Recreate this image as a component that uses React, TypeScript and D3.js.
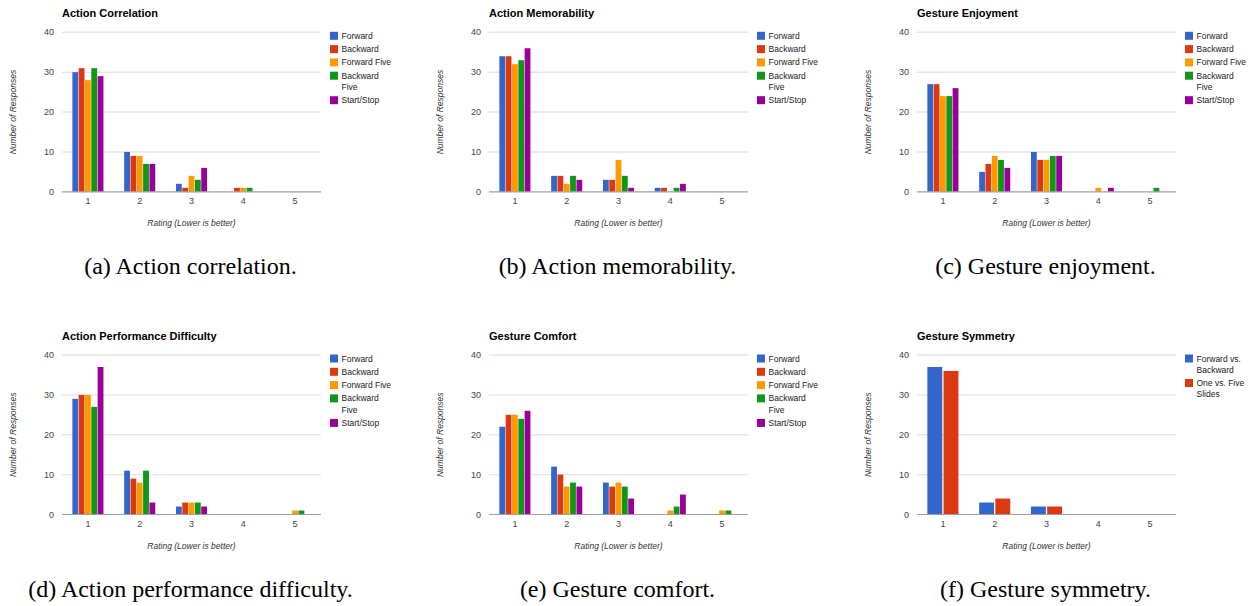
import * as d3 from "d3";
import { useEffect, useRef } from "react";

const ratings = ["1", "2", "3", "4", "5"];
const yTicks = [0, 10, 20, 30, 40];

const actionSeries = ["Forward", "Backward", "Forward Five", "Backward Five", "Start/Stop"];
const symmetrySeries = ["Forward vs. Backward", "One vs. Five Slides"];
const seriesColors = ["#3366cc", "#dc3912", "#ff9900", "#109618", "#990099"];

// values per rating (rows) and per series (columns)
const actionCorrelation = [[30, 31, 28, 31, 29], [10, 9, 9, 7, 7], [2, 1, 4, 3, 6], [0, 1, 1, 1, 0], [0, 0, 0, 0, 0]];
const actionMemorability = [[34, 34, 32, 33, 36], [4, 4, 2, 4, 3], [3, 3, 8, 4, 1], [1, 1, 0, 1, 2], [0, 0, 0, 0, 0]];
const gestureEnjoyment = [[27, 27, 24, 24, 26], [5, 7, 9, 8, 6], [10, 8, 8, 9, 9], [0, 0, 1, 0, 1], [0, 0, 0, 1, 0]];
const performanceDifficulty = [[29, 30, 30, 27, 37], [11, 9, 8, 11, 3], [2, 3, 3, 3, 2], [0, 0, 0, 0, 0], [0, 0, 1, 1, 0]];
const gestureComfort = [[22, 25, 25, 24, 26], [12, 10, 7, 8, 7], [8, 7, 8, 7, 4], [0, 0, 1, 2, 5], [0, 0, 1, 1, 0]];
const gestureSymmetry = [[37, 36], [3, 4], [2, 2], [0, 0], [0, 0]];

const titles = ["Action Correlation", "Action Memorability", "Gesture Enjoyment", "Action Performance Difficulty", "Gesture Comfort", "Gesture Symmetry"];
const captions = ["(a) Action correlation.", "(b) Action memorability.", "(c) Gesture enjoyment.", "(d) Action performance difficulty.", "(e) Gesture comfort.", "(f) Gesture symmetry."];

const yTitle = "Number of Responses";
const xTitle = "Rating (Lower is better)";

const W = 1248;
const H = 606;
const plotW = 259;
const plotH = 159.5;
const lefts = [62, 489, 917];
const tops = [32.3, 355];
const sans = "'Liberation Sans', Arial, sans-serif";

// greedy word wrap, the legend is narrow
function wrap(label: string, max: number): string[] {
    const lines: string[] = [];
    let cur = "";
    label.split(" ").forEach(w => {
        const next = cur ? cur + " " + w : w;
        if (next.length > max && cur) {
            lines.push(cur);
            cur = w;
        } else cur = next;
    });
    lines.push(cur);
    return lines;
}

function App() {
    const ref = useRef<SVGSVGElement>(null);

    useEffect(() => {
        const charts = [
            { values: actionCorrelation, series: actionSeries },
            { values: actionMemorability, series: actionSeries },
            { values: gestureEnjoyment, series: actionSeries },
            { values: performanceDifficulty, series: actionSeries },
            { values: gestureComfort, series: actionSeries },
            { values: gestureSymmetry, series: symmetrySeries },
        ];

        const svg = d3.select(ref.current);
        svg.selectAll("*").remove();
        svg.append("rect").attr("width", W).attr("height", H).attr("fill", "#fff");

        charts.forEach((c, i) => {
            const left = lefts[i % 3];
            const top = tops[Math.floor(i / 3)];
            const g = svg.append("g").attr("transform", `translate(${left},${top})`);

            const x = d3.scaleBand().domain(ratings).range([0, plotW]);
            const inner = d3.scaleBand<number>()
                .domain(d3.range(c.series.length))
                .range([0, x.bandwidth() * 0.6])
                .paddingInner(0.08);
            const y = d3.scaleLinear().domain([0, 40]).range([plotH, 0]);
            const off = x.bandwidth() * 0.2;

            // gridlines
            g.selectAll(".grid")
                .data(yTicks.filter(t => t > 0))
                .enter()
                .append("line")
                .attr("x1", 0).attr("x2", plotW)
                .attr("y1", d => y(d)).attr("y2", d => y(d))
                .attr("stroke", "#e6e6e6")
                .attr("stroke-width", 1.4);

            // bars
            c.values.forEach((row, ri) => {
                g.selectAll(null)
                    .data(row.map((v, si) => ({ v, si })).filter(d => d.v > 0))
                    .enter()
                    .append("rect")
                    .attr("x", d => (x(ratings[ri]) ?? 0) + off + (inner(d.si) ?? 0))
                    .attr("y", d => y(d.v))
                    .attr("width", inner.bandwidth())
                    .attr("height", d => plotH - y(d.v))
                    .attr("fill", d => seriesColors[d.si]);
            });

            // baseline
            g.append("line")
                .attr("x1", 0).attr("x2", plotW)
                .attr("y1", y(0)).attr("y2", y(0))
                .attr("stroke", "#a0a0a0")
                .attr("stroke-width", 1.2);

            // y tick labels
            g.selectAll(".yt")
                .data(yTicks)
                .enter()
                .append("text")
                .attr("x", -8)
                .attr("y", d => y(d) + 3)
                .attr("text-anchor", "end")
                .attr("fill", "#444")
                .style("font-family", sans)
                .style("font-size", "9px")
                .text(d => d);

            // x tick labels
            g.selectAll(".xt")
                .data(ratings)
                .enter()
                .append("text")
                .attr("x", d => (x(d) ?? 0) + x.bandwidth() / 2)
                .attr("y", plotH + 12.5)
                .attr("text-anchor", "middle")
                .attr("fill", "#444")
                .style("font-family", sans)
                .style("font-size", "9px")
                .text(d => d);

            // title
            g.append("text")
                .attr("x", 0)
                .attr("y", -15.5)
                .attr("fill", "#000")
                .style("font-family", sans)
                .style("font-size", "11px")
                .style("font-weight", "bold")
                .text(titles[i]);

            // axis titles
            g.append("text")
                .attr("x", plotW / 2)
                .attr("y", plotH + 34.5)
                .attr("text-anchor", "middle")
                .attr("fill", "#333")
                .style("font-family", sans)
                .style("font-size", "8.5px")
                .style("font-style", "italic")
                .text(xTitle);

            g.append("text")
                .attr("transform", `translate(-46,${plotH / 2}) rotate(-90)`)
                .attr("text-anchor", "middle")
                .attr("fill", "#333")
                .style("font-family", sans)
                .style("font-size", "8.5px")
                .style("font-style", "italic")
                .text(yTitle);

            // legend
            let cy = 3.5;
            c.series.forEach((name, si) => {
                const lines = wrap(name, 12);
                g.append("rect")
                    .attr("x", plotW + 9)
                    .attr("y", cy - 4)
                    .attr("width", 8)
                    .attr("height", 8)
                    .attr("fill", seriesColors[si]);
                lines.forEach((ln, li) => {
                    g.append("text")
                        .attr("x", plotW + 20.5)
                        .attr("y", cy + 3 + li * 11.2)
                        .attr("fill", "#222")
                        .style("font-family", sans)
                        .style("font-size", "8.5px")
                        .text(ln);
                });
                cy += 13.3 + (lines.length - 1) * 11.2;
            });

            // figure caption
            svg.append("text")
                .attr("x", left + 128.5)
                .attr("y", top + 241.5)
                .attr("text-anchor", "middle")
                .attr("fill", "#000")
                .style("font-family", "'Liberation Serif', 'Times New Roman', serif")
                .style("font-size", "24px")
                .text(captions[i]);
        });
    }, []);

    return (
        <div style={{ position: "absolute", left: 0, top: 0 }}>
            <svg ref={ref} width={W} height={H}></svg>
        </div>
    );
}

export default App;
